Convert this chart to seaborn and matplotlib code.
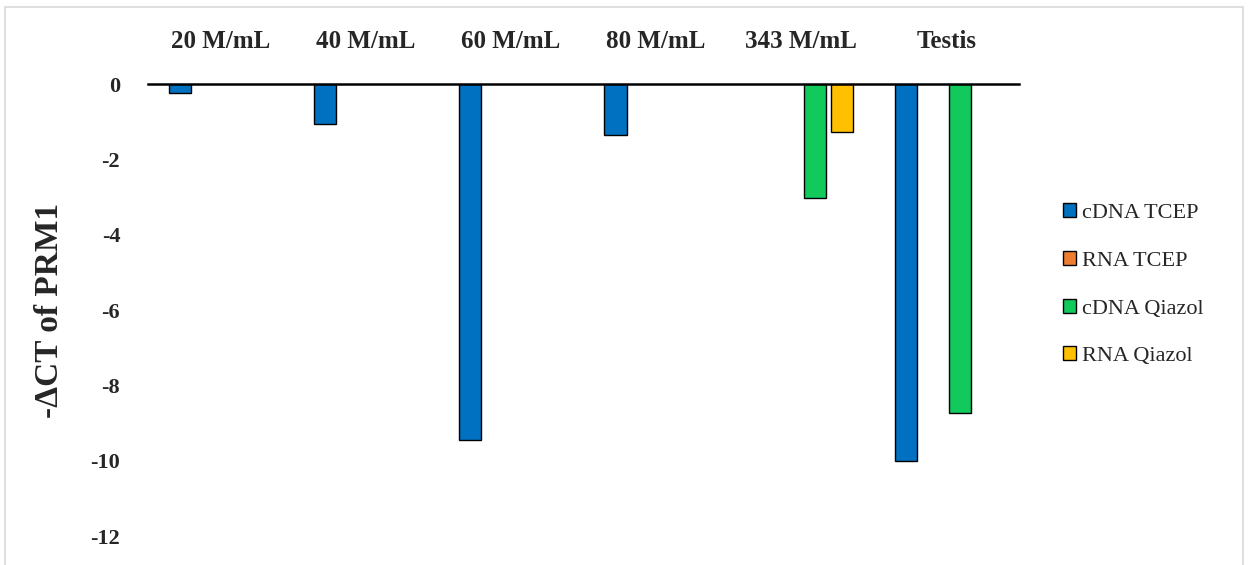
import matplotlib
matplotlib.use('Agg')
import matplotlib.pyplot as plt
import numpy as np
import pandas as pd
import seaborn as sb
from matplotlib.patches import Rectangle

# values (NaN = no bar)
groups = ['20 M/mL', '40 M/mL', '60 M/mL', '80 M/mL', '343 M/mL', 'Testis']
series = ['cDNA TCEP', 'RNA TCEP', 'cDNA Qiazol', 'RNA Qiazol']
cdna_tcep = [-0.23, -1.07, -9.44, -1.35, np.nan, -10.0]
rna_tcep = [np.nan, np.nan, np.nan, np.nan, np.nan, np.nan]
cdna_qiazol = [np.nan, np.nan, np.nan, np.nan, -3.03, -8.73]
rna_qiazol = [np.nan, np.nan, np.nan, np.nan, -1.28, np.nan]
colors = ['#0070C0', '#ED7D31', '#12C95B', '#FFC000']

rows = []
for name, vals in zip(series, [cdna_tcep, rna_tcep, cdna_qiazol, rna_qiazol]):
    for g, v in zip(groups, vals):
        rows.append({'group': g, 'series': name, 'value': v})
df = pd.DataFrame(rows)

sb.set_style('white')
plt.rcParams['font.family'] = ['Liberation Serif', 'DejaVu Serif']

fig = plt.figure(figsize=(12.5, 5.65), dpi=100)
ax = fig.add_axes([0.1184, 0.0513, 0.6968, 0.8])

sb.barplot(data=df, x='group', y='value', hue='series', order=groups, hue_order=series,
           palette=colors, saturation=1, width=0.745, gap=0.18, edgecolor='black',
           linewidth=1.0, errorbar=None, legend=False, ax=ax)

ax.set_ylim(-12, 0)
ax.set_xlim(-0.5, len(groups) - 0.5)
ax.set_yticks(np.arange(-12, 1, 2))
ax.set_yticklabels([str(t) for t in range(-12, 1, 2)], fontsize=16, fontweight='bold')
ax.xaxis.tick_top()
ax.tick_params(axis='x', length=0, pad=22, labelsize=18)
ax.tick_params(axis='y', length=0, pad=20)
for lab in ax.get_xticklabels():
    lab.set_fontweight('bold')
ax.set_xlabel('')
ax.set_ylabel('-ΔCT of PRM1', fontsize=24, fontweight='bold', labelpad=18)
for s in ['left', 'right', 'bottom']:
    ax.spines[s].set_visible(False)
ax.spines['top'].set_color('black')
ax.spines['top'].set_linewidth(1.8)
ax.grid(False)

handles = [Rectangle((0, 0), 1, 1, facecolor=c, edgecolor='black', linewidth=1.0) for c in colors]
fig.legend(handles, series, loc='center left', bbox_to_anchor=(0.834, 0.496), frameon=False,
           handlelength=0.6, handleheight=0.6, handletextpad=0.3, labelspacing=1.25,
           prop={'family': 'Liberation Serif', 'size': 16})

fig.patches.append(Rectangle((0.004, -0.05), 0.99, 1.037, transform=fig.transFigure,
                             fill=False, edgecolor='#d9d9d9', linewidth=1.2))

fig.savefig('out.png', dpi=100)
